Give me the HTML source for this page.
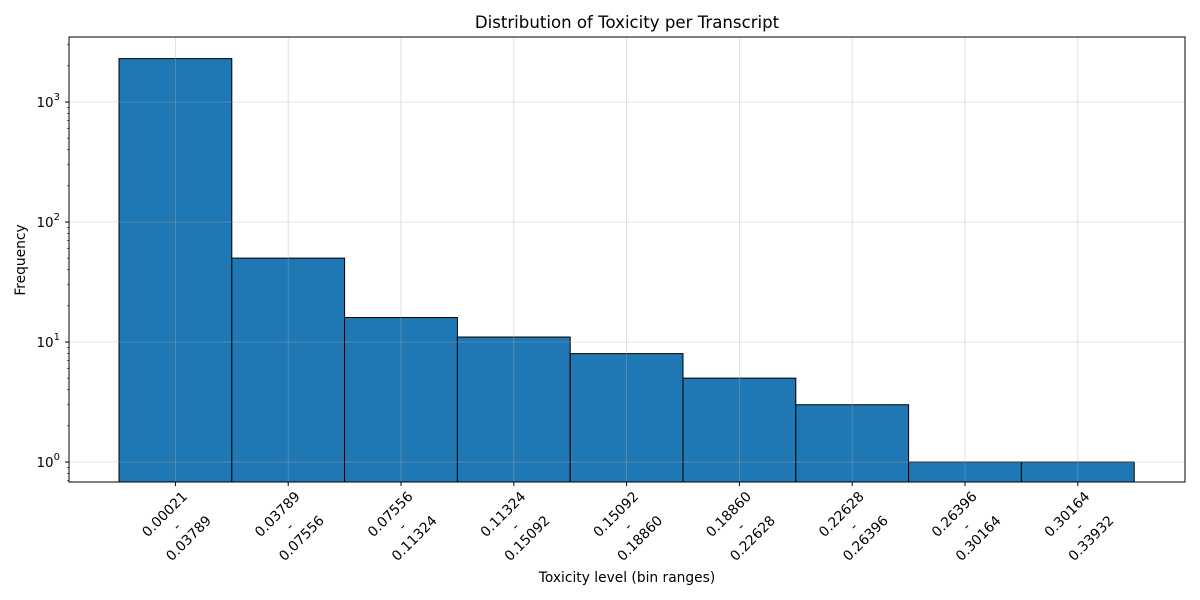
<!DOCTYPE html>
<html><head><meta charset="utf-8"><style>body{margin:0;background:#fff}svg{display:block;font-family:"DejaVu Sans","Liberation Sans",sans-serif}</style></head>
<body>
<svg id="c" width="1200" height="600"></svg>
<script>
const binLabels=["0.00021","0.03789","0.07556","0.11324","0.15092","0.18860","0.22628","0.26396","0.30164","0.33932"];
const counts=[2300,50,16,11,8,5,3,1,1];
const yTicks=[1,10,100,1000];
const yTickLabels=["0","1","2","3"];
const svg=document.getElementById('c');const NS="http://www.w3.org/2000/svg";
function el(t,a,p){const e=document.createElementNS(NS,t);for(const k in a)e.setAttribute(k,a[k]);(p||svg).appendChild(e);return e;}
const L=69,R=1185,T=37,B=482;
const bw=112.8,x0=119;
function xs(i){return x0+i*bw;}
function ys(v){return 462-120*Math.log10(v);}
const grid=el('g',{});


counts.forEach((c,i)=>el('line',{x1:xs(i)+bw/2,x2:xs(i)+bw/2,y1:T,y2:B,stroke:'#b0b0b0','stroke-opacity':0.45,'stroke-width':0.8},grid));
yTicks.forEach(v=>el('line',{x1:L,x2:R,y1:ys(v),y2:ys(v),stroke:'#b0b0b0','stroke-opacity':0.45,'stroke-width':0.8},grid));
counts.forEach((c,i)=>{const r=el('rect',{x:xs(i),y:ys(c),width:bw,height:B-ys(c),fill:'#1f77b4',stroke:'#000','stroke-width':1});

});
svg.appendChild(grid);
const fr=el('rect',{x:L,y:T,width:R-L,height:B-T,fill:'none',stroke:'#000','stroke-width':1});


yTicks.forEach((v,k)=>{const y=ys(v);el('line',{x1:L-4,x2:L,y1:y,y2:y,stroke:'#000'});
const t=el('text',{x:L-9,y:y+5,'text-anchor':'end','font-size':13.5});


t.textContent='10';const s=el('tspan',{dy:-7,'font-size':10},t);s.textContent=yTickLabels[k];});
for(let d=-1;d<4;d++)for(let m=2;m<10;m++){const v=m*Math.pow(10,d);const y=ys(v);if(y<T||y>B)continue;el('line',{x1:L-2,x2:L,y1:y,y2:y,stroke:'#000','stroke-width':0.6});}
counts.forEach((c,i)=>{const cx=xs(i)+bw/2;el('line',{x1:cx,x2:cx,y1:B,y2:B+4,stroke:'#000'});
const g=el('g',{transform:`translate(${cx+1},526) rotate(-45)`});


[binLabels[i],'-',binLabels[i+1]].forEach((s,j)=>{const t=el('text',{x:0,y:(j-1)*17+5,'text-anchor':'middle','font-size':13.8},g);t.textContent=s;});});
const tt=el('text',{x:627,y:28,'text-anchor':'middle','font-size':16.6});tt.textContent='Distribution of Toxicity per Transcript';


const xl=el('text',{x:627,y:582,'text-anchor':'middle','font-size':13.8});xl.textContent='Toxicity level (bin ranges)';


const yl=el('text',{x:0,y:0,'text-anchor':'middle','font-size':13.8,transform:'translate(25,260) rotate(-90)'});yl.textContent='Frequency';


</script>
</body></html>
